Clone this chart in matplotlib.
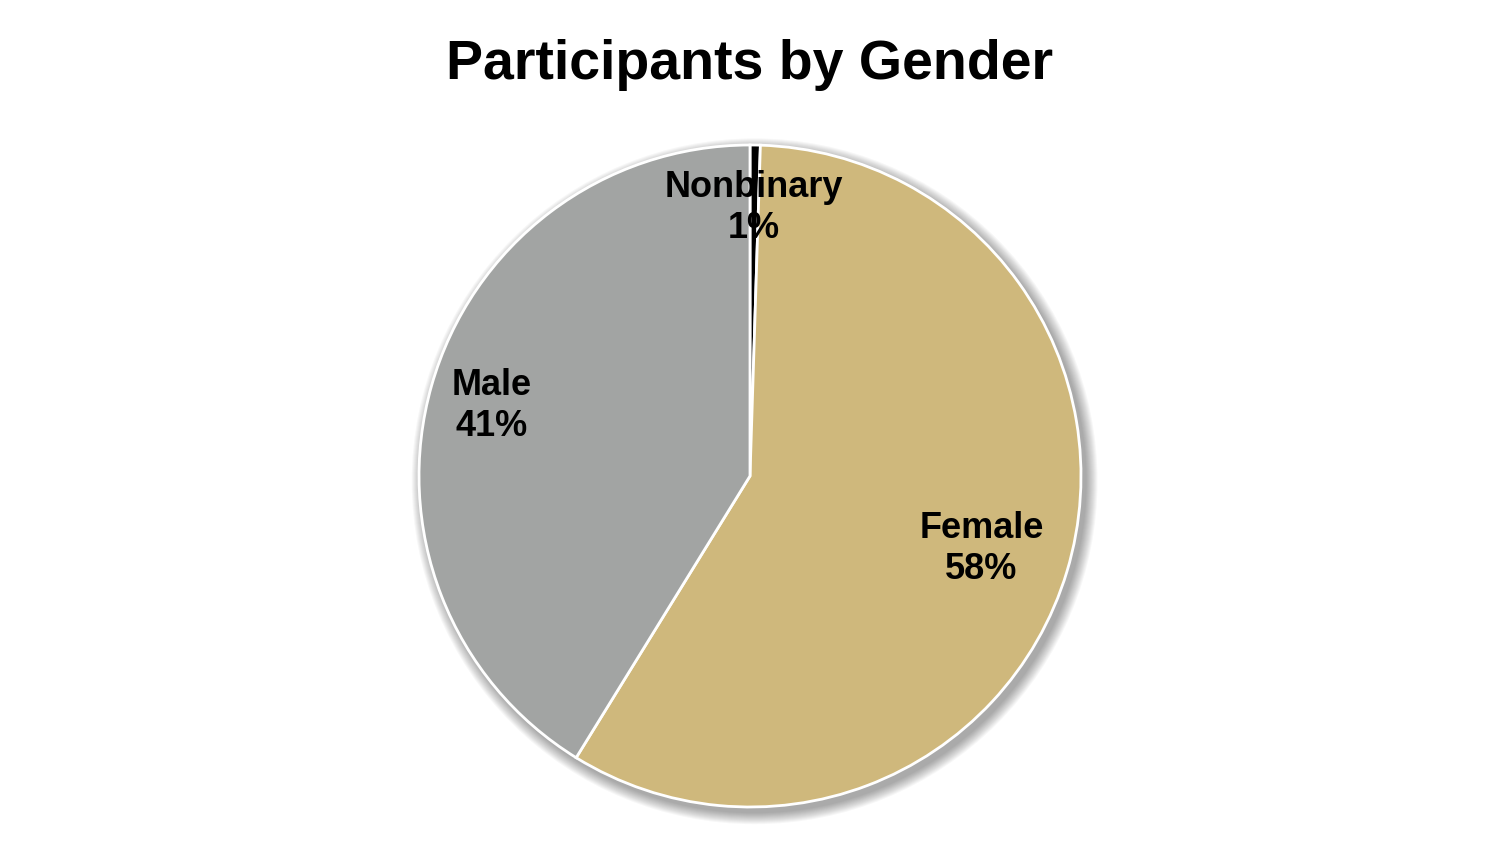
import numpy as np
import matplotlib.pyplot as plt
from matplotlib.patches import Circle

plt.rcParams['font.family'] = ['Liberation Sans', 'DejaVu Sans']

# datos
categorias = ['Nonbinary', 'Female', 'Male']
valores = [0.5, 58.3, 41.2]
colores = ['#000000', '#CFB87C', '#A2A4A3']
dist_etiqueta = [0.82, 0.73, 0.81]

fig = plt.figure(figsize=(15, 8.51), dpi=100)

# ejes cuadrados en pixeles, centro del pie en (750, 476)
cx, cy, r = 750, 476, 331
W, H = 1500, 851
ax = fig.add_axes([(cx - r) / W, (H - cy - r) / H, 2 * r / W, 2 * r / H])

# sombra suave abajo a la derecha
for k in range(12):
    rad = 1.0 + 0.003 * (12 - k)
    ax.add_patch(Circle((0.014, -0.016), rad, color='#000000', alpha=0.03,
                        lw=0, zorder=0, clip_on=False))

wedges, _ = ax.pie(valores, colors=colores, startangle=90, counterclock=False,
                   radius=1, wedgeprops=dict(edgecolor='white', linewidth=2),
                   frame=True)
ax.set_xlim(-1, 1)
ax.set_ylim(-1, 1)
ax.axis('off')
for w in wedges:
    w.set_zorder(2)

total = sum(valores)
for w, nombre, v, d in zip(wedges, categorias, valores, dist_etiqueta):
    ang = np.deg2rad((w.theta1 + w.theta2) / 2)
    pct = int(v / total * 100 + 0.5)
    ax.text(d * np.cos(ang), d * np.sin(ang) - 0.01, f'{nombre}\n{pct}%',
            ha='center', va='center', fontsize=26, fontweight='bold',
            linespacing=1.2, zorder=3)

fig.text(0.5, 1 - 65 / H, 'Participants by Gender', ha='center', va='center',
         fontsize=40, fontweight='bold')

fig.savefig('out.png', dpi=100)
